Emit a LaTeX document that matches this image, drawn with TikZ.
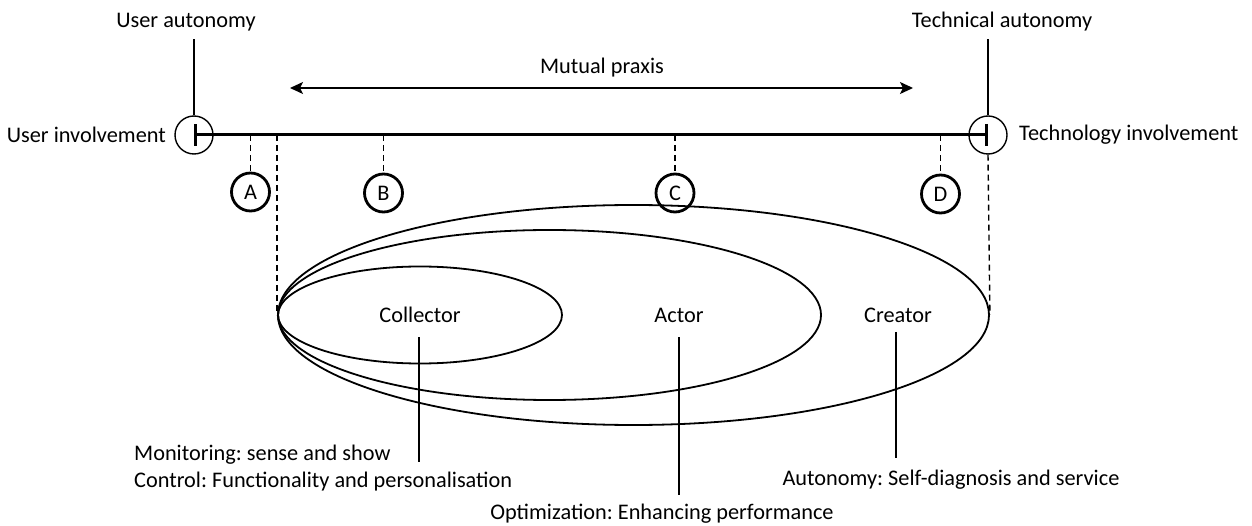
\documentclass[tikz,border=0pt]{standalone}
\usepackage{fontspec}
\setmainfont{Carlito}
\frenchspacing
\usetikzlibrary{arrows.meta,shapes.geometric}
\begin{document}
\begin{tikzpicture}[x=1pt,y=-1pt,
  every node/.style={font=\fontsize{22.3}{27}\selectfont, inner sep=0pt},
  endcircle/.style={draw, circle, line width=1.4pt, minimum size=38pt},
  stage/.style={draw, circle, line width=2.8pt, minimum size=38pt},
  zone/.style={draw, ellipse, line width=1.8pt, inner sep=0pt},
  guide/.style={line width=1.6pt},
  dashguide/.style={line width=1.4pt, dash pattern=on 6pt off 4pt},
]
\useasboundingbox (0,0) rectangle (1252,526);

% axis ends
\node[endcircle] (lc) at (194,135) {};
\node[endcircle] (rc) at (988,135) {};
\node[anchor=east] (ui) at (166,135) {User involvement};
\node[anchor=west] (ti) at (1019,135) {Technology involvement};
\node (ua) at (186,22) {User autonomy};
\node (ta) at (1002,22) {Technical autonomy};
\draw[guide] (lc.north) -- (lc.north |- 0,39);
\draw[guide] (rc.north) -- (rc.north |- 0,39);

% main axis
\draw[line width=3pt, {Bar[width=22pt,line width=3pt]}-{Bar[width=22pt,line width=3pt]}] (lc.center) -- (rc.center);

% mutual praxis
\coordinate (mpl) at (290,88);
\coordinate (mpr) at (913,88);
\draw[line width=1.4pt, {Stealth[length=13pt,width=12pt,inset=3pt]}-{Stealth[length=13pt,width=12pt,inset=3pt]}] (mpl) -- (mpr);
\node (mp) at (602,68) {Mutual praxis};

% stages
\node[stage] (A) at (250.5,192) {A};
\node[stage] (B) at (383.5,193) {B};
\node[stage] (C) at (675,193) {C};
\node[stage] (D) at (940.5,194) {D};
\foreach \s in {A,B,C,D}
  \draw[dashguide] (\s.north |- lc.center) -- (\s.north);

% nested zones
\node[zone, minimum width=711pt, minimum height=220pt] (creatorzone) at (633.5,315) {};
\node[zone, minimum width=543pt, minimum height=170pt] (actorzone) at (549.5,315) {};
\node[zone, minimum width=284pt, minimum height=97pt] (collectorzone) at (420,315) {};
\draw[dashguide] (collectorzone.west |- lc.center) -- (collectorzone.west);
\draw[dashguide] (rc.south) -- (creatorzone.east);

\node (collector) at (420,315) {Collector};
\node (actor) at (679,315) {Actor};
\node (creator) at (898,315) {Creator};

% role descriptions
\coordinate (colend) at (419,462);
\coordinate (actend) at (679,495);
\coordinate (creend) at (896,458);
\draw[guide] (419,337) -- (colend);
\draw[guide] (679,337) -- (actend);
\draw[guide] (896,332) -- (creend);

\node[anchor=west, align=left] (coltext) at (134,468.5) {Monitoring: sense and show\\Control: Functionality and personalisation};
\node (acttext) at (662,514) {Optimization: Enhancing performance};
\node (cretext) at (951,480) {Autonomy: Self-diagnosis and service};
\end{tikzpicture}
\end{document}
